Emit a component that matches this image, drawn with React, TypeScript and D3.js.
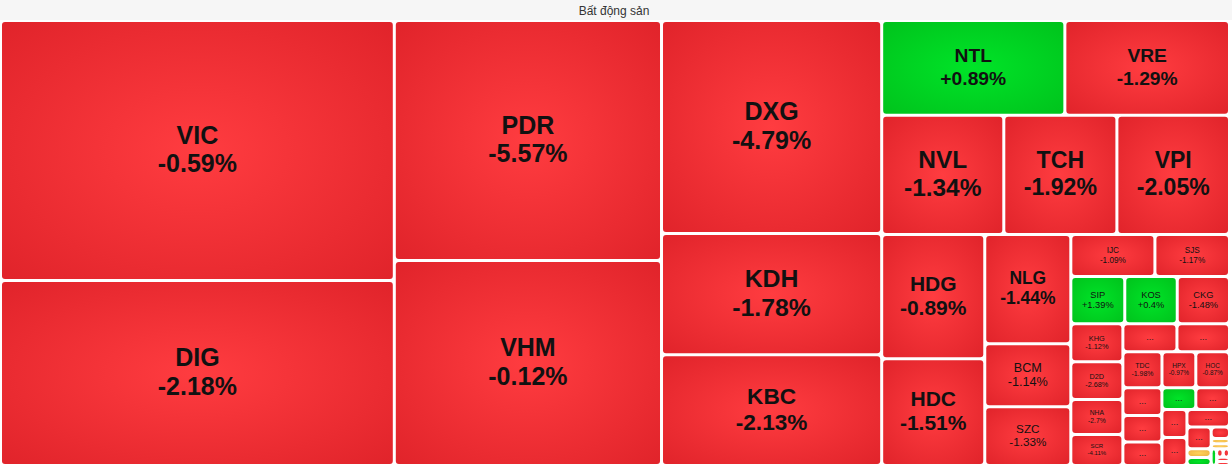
import React, { useRef, useEffect } from 'react';
import * as d3 from 'd3';

const SECTOR = 'Bất động sản';

// stocks in layout order; '' = cell too small to show its ticker
const tickers = [
  'VIC', 'DIG', 'PDR', 'VHM', 'DXG', 'KDH', 'KBC', 'NTL', 'VRE', 'NVL', 'TCH', 'VPI',
  'HDG', 'HDC', 'NLG', 'BCM', 'SZC', 'IJC', 'SJS', 'SIP', 'KOS', 'CKG', 'KHG', 'D2D',
  'NHA', 'SCR', '', '', 'TDC', 'HPX', 'HOC',
  '', '', '', '', '', '', '', '', '', '', '', '', '', '', '', '', '', '', ''
];

// % change of the day
const changes = [
  -0.59, -2.18, -5.57, -0.12, -4.79, -1.78, -2.13, 0.89, -1.29, -1.34, -1.92, -2.05,
  -0.89, -1.51, -1.44, -1.14, -1.33, -1.09, -1.17, 1.39, 0.4, -1.48, -1.12, -2.68,
  -2.7, -4.11, -1.2, -1.1, -1.98, -0.97, -0.87,
  -1.0, -1.0, -1.0, 0.8, -0.9, -1.0, -1.0, -1.0, -1.0, 0, 0.6, -1.0, 0, 0, 0.5,
  -1.0, -1.0, -1.0, -1.0
];

// cell weight (market value share)
const weights = [
  102113, 72601, 63947, 54602, 46750, 26620, 24310, 17294, 15545, 14518, 13447, 13388,
  12772, 10970, 9374, 5418, 5031, 3528, 3129, 2540, 2470, 2460, 1976, 1950,
  1820, 1612, 1512, 1470, 1404, 1215, 1210,
  1072, 1033, 917, 730, 725, 700, 700, 744, 527, 208, 196, 210, 96, 94, 90,
  55, 53, 55, 52
];

// how many stocks go in each strip of the tiling
const strips = [2, 2, 3, 2, 3, 2, 3, 2, 3, 4, 2, 3, 3, 2, 2, 1, 3, 1, 1, 1, 1, 2, 2];

interface Cell {
  ticker: string;
  change: number;
  value: number;
}

const cells: Cell[] = tickers.map((t, i) => ({ ticker: t, change: changes[i], value: weights[i] }));

const WIDTH = 1232;
const HEIGHT = 471;
const GAP = 1.5;

// strips laid along the shorter side of what is left, like squarify
function stripTile(parent: any, x0: number, y0: number, x1: number, y1: number) {
  const nodes = parent.children;
  let remaining = parent.value;
  let i = 0;
  let k = 0;
  while (i < nodes.length) {
    const count = strips[k++] ?? nodes.length - i;
    const row = nodes.slice(i, i + count);
    const sum = d3.sum(row, (d: any) => d.value);
    const part = { children: row, value: sum } as any;
    const last = i + count >= nodes.length;
    if (x1 - x0 < y1 - y0) {
      const yy = last ? y1 : y0 + (y1 - y0) * sum / remaining;
      d3.treemapDice(part, x0, y0, x1, yy);
      y0 = yy;
    } else {
      const xx = last ? x1 : x0 + (x1 - x0) * sum / remaining;
      d3.treemapSlice(part, x0, y0, xx, y1);
      x0 = xx;
    }
    remaining -= sum;
    i += count;
  }
}

const fmt = (v: number) => (v > 0 ? '+' : '') + v + '%';

const App: React.FC = () => {
  const svgRef = useRef<SVGSVGElement>(null);

  useEffect(() => {
    document.body.style.margin = '0';
    if (!svgRef.current) return;
    const svg = d3.select(svgRef.current);
    svg.selectAll('*').remove();

    const defs = svg.append('defs');
    const palette: Record<string, [string, string]> = {
      down: ['#ff3c40', '#e0232a'],
      up: ['#00e428', '#00c21c'],
      flat: ['#ffd35c', '#eeb040']
    };
    Object.entries(palette).forEach(([key, [inner, outer]]) => {
      const g = defs.append('radialGradient')
        .attr('id', `grad-${key}`)
        .attr('cx', '50%').attr('cy', '50%').attr('r', '72%');
      g.append('stop').attr('offset', '0%').attr('stop-color', inner);
      g.append('stop').attr('offset', '100%').attr('stop-color', outer);
    });

    // header bar with the sector name
    svg.append('rect')
      .attr('x', 0).attr('y', 0)
      .attr('width', WIDTH).attr('height', 20)
      .attr('fill', '#f6f6f6');

    svg.append('text')
      .attr('x', WIDTH / 2 - 2)
      .attr('y', 14.5)
      .attr('text-anchor', 'middle')
      .style('font-family', 'Liberation Sans, Arial, sans-serif')
      .style('font-size', '12px')
      .style('fill', '#333')
      .text(SECTOR);

    const root = d3.hierarchy<any>({ children: cells })
      .sum((d: any) => d.value || 0);

    d3.treemap<any>()
      .tile(stripTile as any)
      .size([1229, 445])(root);

    const chart = svg.append('g').attr('transform', 'translate(0.5, 20.5)');

    const leaves = root.leaves() as any[];

    const node = chart.selectAll('g.cell')
      .data(leaves)
      .enter()
      .append('g')
      .attr('class', 'cell');

    node.append('rect')
      .attr('x', d => d.x0 + GAP)
      .attr('y', d => d.y0 + GAP)
      .attr('width', d => Math.max(0, d.x1 - d.x0 - 2 * GAP))
      .attr('height', d => Math.max(0, d.y1 - d.y0 - 2 * GAP))
      .attr('rx', 3)
      .attr('fill', d => {
        const c = d.data.change;
        return `url(#grad-${c > 0 ? 'up' : c < 0 ? 'down' : 'flat'})`;
      });

    node.each(function (d) {
      const w = d.x1 - d.x0 - 2 * GAP;
      const h = d.y1 - d.y0 - 2 * GAP;
      const cx = (d.x0 + d.x1) / 2;
      const cy = (d.y0 + d.y1) / 2;
      const f = Math.max(6, Math.min(25, 0.21 * Math.min(w, h)));
      const g = d3.select(this);
      const family = 'Liberation Sans, Arial, sans-serif';

      if (0.21 * Math.min(w, h) >= 5.7 && d.data.ticker) {
        const t = g.append('text')
          .attr('text-anchor', 'middle')
          .style('font-family', family)
          .style('font-size', `${f}px`)
          .style('font-weight', f >= 14 ? 'bold' : 'normal')
          .style('fill', '#111');
        t.append('tspan')
          .attr('x', cx)
          .attr('y', cy - 0.28 * f)
          .text(d.data.ticker);
        t.append('tspan')
          .attr('x', cx)
          .attr('y', cy - 0.28 * f + 1.15 * f)
          .text(fmt(d.data.change));
      } else if (w >= 14 && h >= 14) {
        g.append('text')
          .attr('x', cx)
          .attr('y', cy + 2)
          .attr('text-anchor', 'middle')
          .style('font-family', family)
          .style('font-size', '9px')
          .style('fill', '#222')
          .text('...');
      }
    });
  }, []);

  return (
    <svg
      ref={svgRef}
      width={WIDTH}
      height={HEIGHT}
      style={{ display: 'block', background: '#fff' }}
    />
  );
};

export default App;
